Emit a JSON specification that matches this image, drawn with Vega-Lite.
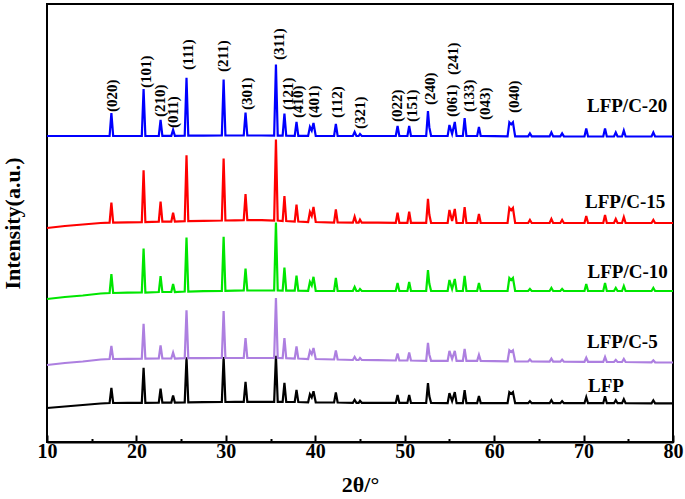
{
  "$schema": "https://vega.github.io/schema/vega-lite/v6.json",
  "width": 626,
  "height": 438,
  "autosize": {"type": "none"},
  "padding": {"left": 47, "top": 4, "right": 12, "bottom": 57},
  "config": {
    "view": {"stroke": "black", "strokeWidth": 2},
    "font": "Liberation Serif"
  },
  "layer": [
    {
      "data": {"values": [
        {"t":10,"C20":306,"C15":214,"C10":143,"C5":77,"LFP":34},
        {"t":12,"C20":306,"C15":216,"C10":145,"C5":79,"LFP":35.5},
        {"t":14,"C20":306,"C15":217.5,"C10":146.5,"C5":80.5,"LFP":37},
        {"t":16,"C20":306,"C15":219,"C10":148.5,"C5":82.5,"LFP":38.5},
        {"t":17,"C20":306,"C15":219.3,"C10":149,"C5":83,"LFP":39},
        {"t":17.2,"C20":329,"C15":239.3,"C10":168,"C5":96,"LFP":54},
        {"t":17.4,"C20":306,"C15":219.3,"C10":149,"C5":83,"LFP":39},
        {"t":19,"C20":306,"C15":219.6,"C10":149.3,"C5":83.2,"LFP":39.1},
        {"t":20.6,"C20":306,"C15":219.8,"C10":149.5,"C5":83.3,"LFP":39.2},
        {"t":20.8,"C20":353,"C15":271.8,"C10":193.5,"C5":118.3,"LFP":74.2},
        {"t":21,"C20":306,"C15":219.8,"C10":149.5,"C5":83.3,"LFP":39.2},
        {"t":22.5,"C20":306.2,"C15":220.3,"C10":150,"C5":83.5,"LFP":39.4},
        {"t":22.7,"C20":322.2,"C15":240.3,"C10":166,"C5":96.5,"LFP":53.4},
        {"t":22.9,"C20":306.2,"C15":220.3,"C10":150,"C5":83.5,"LFP":39.4},
        {"t":23.9,"C20":306.2,"C15":220.3,"C10":150,"C5":83.5,"LFP":39.4},
        {"t":24.1,"C20":312.2,"C15":229.3,"C10":158,"C5":89.5,"LFP":46.4},
        {"t":24.3,"C20":306.2,"C15":220.3,"C10":150,"C5":83.5,"LFP":39.4},
        {"t":25.4,"C20":306.3,"C15":220.8,"C10":150.5,"C5":83.8,"LFP":39.6},
        {"t":25.6,"C20":364.3,"C15":286.8,"C10":204.5,"C5":131.8,"LFP":84.6},
        {"t":25.8,"C20":306.3,"C15":220.8,"C10":150.5,"C5":83.8,"LFP":39.6},
        {"t":27.5,"C20":306.4,"C15":221.2,"C10":150.9,"C5":83.9,"LFP":39.8},
        {"t":29.55,"C20":306.5,"C15":221.5,"C10":151.2,"C5":84,"LFP":40},
        {"t":29.75,"C20":362.5,"C15":283.5,"C10":205.2,"C5":131,"LFP":85},
        {"t":29.95,"C20":306.5,"C15":221.5,"C10":151.2,"C5":84,"LFP":40},
        {"t":31,"C20":306.5,"C15":221.7,"C10":151.4,"C5":84,"LFP":40.1},
        {"t":32,"C20":306.5,"C15":221.8,"C10":151.5,"C5":84,"LFP":40.2},
        {"t":32.2,"C20":329.5,"C15":247.8,"C10":173.5,"C5":104,"LFP":60.2},
        {"t":32.4,"C20":306.5,"C15":221.8,"C10":151.5,"C5":84,"LFP":40.2},
        {"t":34,"C20":306.5,"C15":221.8,"C10":151.5,"C5":84,"LFP":40.2},
        {"t":35.4,"C20":306.4,"C15":221.5,"C10":151.5,"C5":84,"LFP":40.2},
        {"t":35.6,"C20":377.4,"C15":302.5,"C10":219.5,"C5":144,"LFP":86.2},
        {"t":35.8,"C20":306.4,"C15":221.5,"C10":151.5,"C5":84,"LFP":40.2},
        {"t":36.35,"C20":306.3,"C15":221,"C10":151.4,"C5":83.8,"LFP":40.1},
        {"t":36.55,"C20":328.3,"C15":246,"C10":174.4,"C5":103.8,"LFP":59.1},
        {"t":36.75,"C20":306.3,"C15":221,"C10":151.4,"C5":83.8,"LFP":40.1},
        {"t":37.7,"C20":306.2,"C15":220.5,"C10":151.3,"C5":83.5,"LFP":40},
        {"t":37.9,"C20":320.2,"C15":237.5,"C10":166.3,"C5":95.5,"LFP":52},
        {"t":38.1,"C20":306.2,"C15":220.5,"C10":151.3,"C5":83.5,"LFP":40},
        {"t":39.2,"C20":306.1,"C15":220,"C10":151.2,"C5":83,"LFP":39.7},
        {"t":39.4,"C20":315.1,"C15":230,"C10":160.2,"C5":91,"LFP":47.7},
        {"t":39.6,"C20":311.5,"C15":226,"C10":156.6,"C5":87.8,"LFP":44.5},
        {"t":39.8,"C20":319.1,"C15":235,"C10":165.2,"C5":94,"LFP":50.7},
        {"t":40.05,"C20":306.1,"C15":220,"C10":151.2,"C5":83,"LFP":39.7},
        {"t":42.1,"C20":306,"C15":219.5,"C10":151,"C5":82.5,"LFP":39.5},
        {"t":42.3,"C20":318,"C15":232.5,"C10":164,"C5":91.5,"LFP":49.5},
        {"t":42.5,"C20":306,"C15":219.5,"C10":151,"C5":82.5,"LFP":39.5},
        {"t":44.2,"C20":306,"C15":219.3,"C10":151,"C5":82,"LFP":39.2},
        {"t":44.4,"C20":310,"C15":225.3,"C10":155,"C5":85,"LFP":42.2},
        {"t":44.6,"C20":306,"C15":219.3,"C10":151,"C5":82,"LFP":39.2},
        {"t":44.85,"C20":306,"C15":219.3,"C10":151,"C5":82,"LFP":39.2},
        {"t":45,"C20":308,"C15":222.3,"C10":153,"C5":84,"LFP":41.2},
        {"t":45.2,"C20":306,"C15":219.3,"C10":151,"C5":82,"LFP":39.2},
        {"t":47,"C20":306,"C15":219.3,"C10":151,"C5":81.8,"LFP":39.2},
        {"t":49,"C20":306,"C15":219.2,"C10":151,"C5":81.5,"LFP":39.1},
        {"t":49.2,"C20":316,"C15":229.2,"C10":159,"C5":88.5,"LFP":47.1},
        {"t":49.4,"C20":306,"C15":219.2,"C10":151,"C5":81.5,"LFP":39.1},
        {"t":50.3,"C20":306,"C15":219.2,"C10":151,"C5":81.5,"LFP":39.1},
        {"t":50.5,"C20":316,"C15":230.2,"C10":160,"C5":89.5,"LFP":47.1},
        {"t":50.7,"C20":306,"C15":219.2,"C10":151,"C5":81.5,"LFP":39.1},
        {"t":52.4,"C20":306,"C15":219.1,"C10":151,"C5":81.2,"LFP":39},
        {"t":52.6,"C20":331,"C15":243.1,"C10":172,"C5":99.2,"LFP":59},
        {"t":52.75,"C20":314.8,"C15":227.5,"C10":158.4,"C5":87.5,"LFP":46},
        {"t":52.95,"C20":306,"C15":219.1,"C10":151,"C5":81.2,"LFP":39},
        {"t":54.8,"C20":306,"C15":219,"C10":151,"C5":81.1,"LFP":38.9},
        {"t":55,"C20":317,"C15":232,"C10":162,"C5":91.1,"LFP":48.9},
        {"t":55.3,"C20":308,"C15":221,"C10":153,"C5":83,"LFP":40.9},
        {"t":55.6,"C20":320,"C15":233,"C10":163,"C5":91.1,"LFP":49.9},
        {"t":55.8,"C20":306,"C15":219,"C10":151,"C5":81.1,"LFP":38.9},
        {"t":56.5,"C20":306,"C15":219,"C10":151,"C5":81.1,"LFP":38.9},
        {"t":56.7,"C20":324,"C15":235,"C10":166,"C5":93.1,"LFP":51.9},
        {"t":56.9,"C20":306,"C15":219,"C10":151,"C5":81.1,"LFP":38.9},
        {"t":58.1,"C20":306,"C15":219,"C10":151,"C5":81.1,"LFP":38.9},
        {"t":58.3,"C20":315,"C15":228,"C10":159,"C5":87.1,"LFP":45.9},
        {"t":58.5,"C20":306,"C15":219,"C10":151,"C5":81.1,"LFP":38.9},
        {"t":60,"C20":305.8,"C15":219,"C10":151,"C5":80.8,"LFP":38.8},
        {"t":61.5,"C20":305.7,"C15":219,"C10":151,"C5":80.7,"LFP":38.8},
        {"t":61.7,"C20":319.7,"C15":234,"C10":164,"C5":91.7,"LFP":49.8},
        {"t":61.9,"C20":317.6,"C15":231.8,"C10":162,"C5":90,"LFP":48.2},
        {"t":62.1,"C20":319.7,"C15":234,"C10":164,"C5":91.7,"LFP":49.8},
        {"t":62.35,"C20":305.7,"C15":219,"C10":151,"C5":80.7,"LFP":38.8},
        {"t":63.8,"C20":305.6,"C15":219,"C10":151,"C5":80.5,"LFP":38.8},
        {"t":64,"C20":308.6,"C15":222,"C10":153,"C5":82.5,"LFP":40.8},
        {"t":64.2,"C20":305.6,"C15":219,"C10":151,"C5":80.5,"LFP":38.8},
        {"t":66.2,"C20":305.6,"C15":219,"C10":151,"C5":80.4,"LFP":38.8},
        {"t":66.4,"C20":309.6,"C15":223,"C10":154,"C5":83.4,"LFP":41.8},
        {"t":66.6,"C20":305.6,"C15":219,"C10":151,"C5":80.4,"LFP":38.8},
        {"t":67.4,"C20":305.6,"C15":219,"C10":151,"C5":80.3,"LFP":38.8},
        {"t":67.6,"C20":308.6,"C15":222,"C10":153,"C5":82.3,"LFP":40.8},
        {"t":67.8,"C20":305.6,"C15":219,"C10":151,"C5":80.3,"LFP":38.8},
        {"t":70.1,"C20":305.5,"C15":219,"C10":151,"C5":80.2,"LFP":38.8},
        {"t":70.3,"C20":313.5,"C15":226,"C10":158,"C5":84.2,"LFP":44.8},
        {"t":70.5,"C20":305.5,"C15":219,"C10":151,"C5":80.2,"LFP":38.8},
        {"t":72.2,"C20":305.5,"C15":219,"C10":151,"C5":80.1,"LFP":38.8},
        {"t":72.4,"C20":313.5,"C15":227,"C10":159,"C5":85.1,"LFP":45.8},
        {"t":72.6,"C20":305.5,"C15":219,"C10":151,"C5":80.1,"LFP":38.8},
        {"t":73.4,"C20":305.5,"C15":219,"C10":151,"C5":80,"LFP":38.8},
        {"t":73.6,"C20":309.5,"C15":223,"C10":154,"C5":82,"LFP":41.8},
        {"t":73.8,"C20":305.5,"C15":219,"C10":151,"C5":80,"LFP":38.8},
        {"t":74.3,"C20":305.5,"C15":219,"C10":151,"C5":80,"LFP":38.8},
        {"t":74.5,"C20":311.5,"C15":225,"C10":156,"C5":83,"LFP":42.8},
        {"t":74.7,"C20":305.5,"C15":219,"C10":151,"C5":80,"LFP":38.8},
        {"t":77.6,"C20":305.5,"C15":219,"C10":151,"C5":79.7,"LFP":38.7},
        {"t":77.8,"C20":309.5,"C15":222,"C10":154,"C5":81.7,"LFP":41.7},
        {"t":78,"C20":305.5,"C15":219,"C10":151,"C5":79.7,"LFP":38.7},
        {"t":80,"C20":305.5,"C15":219,"C10":151,"C5":79.5,"LFP":38.7}
      ]},
      "transform": [{"fold": ["LFP", "C5", "C10", "C15", "C20"], "as": ["series", "intensity"]}],
      "mark": {"type": "line", "strokeWidth": 2.2, "strokeJoin": "miter"},
      "encoding": {
        "x": {
          "field": "t", "type": "quantitative",
          "scale": {"domain": [10, 80], "nice": false, "zero": false},
          "axis": {
            "values": [10, 15, 20, 25, 30, 35, 40, 45, 50, 55, 60, 65, 70, 75, 80],
            "labelExpr": "datum.value % 10 === 0 ? datum.label : ''",
            "tickSize": {"condition": {"test": "datum.value % 10 === 0", "value": -7}, "value": -3.5},
            "tickColor": "black", "tickWidth": 2,
            "domainColor": "black", "domainWidth": 2,
            "grid": false,
            "labelFont": "Liberation Serif", "labelFontWeight": "bold", "labelFontSize": 20, "labelColor": "black",
            "labelPadding": 6, "labelFlush": false, "labelOverlap": false,
            "title": "2θ/°",
            "titleFont": "Liberation Serif", "titleFontWeight": "bold", "titleFontSize": 22, "titleColor": "black",
            "titlePadding": 10
          }
        },
        "y": {
          "field": "intensity", "type": "quantitative",
          "scale": {"domain": [0, 438], "nice": false, "zero": false},
          "axis": {
            "labels": false, "ticks": false, "domain": false, "grid": false,
            "title": "Intensity(a.u.)",
            "titleFont": "Liberation Serif", "titleFontWeight": "bold", "titleFontSize": 22, "titleColor": "black",
            "titlePadding": 23
          }
        },
        "color": {
          "field": "series", "type": "nominal",
          "scale": {"domain": ["LFP", "C5", "C10", "C15", "C20"], "range": ["#000000", "#AD7FE0", "#00E600", "#FF0000", "#0000FF"]},
          "legend": null
        }
      }
    },
    {
      "data": {"values": [
        {"t": 17.3, "intensity": 330, "label": "(020)"},
        {"t": 21.05, "intensity": 354, "label": "(101)"},
        {"t": 22.64, "intensity": 325, "label": "(210)"},
        {"t": 24.12, "intensity": 314, "label": "(011)"},
        {"t": 25.8, "intensity": 372, "label": "(111)"},
        {"t": 29.7, "intensity": 370, "label": "(211)"},
        {"t": 32.33, "intensity": 332, "label": "(301)"},
        {"t": 35.9, "intensity": 382, "label": "(311)"},
        {"t": 36.98, "intensity": 332, "label": "(121)"},
        {"t": 38.1, "intensity": 324, "label": "(410)"},
        {"t": 39.86, "intensity": 324, "label": "(401)"},
        {"t": 42.4, "intensity": 324, "label": "(112)"},
        {"t": 45.0, "intensity": 313, "label": "(321)"},
        {"t": 49.1, "intensity": 320, "label": "(022)"},
        {"t": 50.78, "intensity": 320, "label": "(151)"},
        {"t": 52.8, "intensity": 337, "label": "(240)"},
        {"t": 55.3, "intensity": 325, "label": "(061)"},
        {"t": 55.4, "intensity": 367, "label": "(241)"},
        {"t": 57.2, "intensity": 330, "label": "(133)"},
        {"t": 59.0, "intensity": 322, "label": "(043)"},
        {"t": 62.2, "intensity": 329, "label": "(040)"}
      ]},
      "mark": {"type": "text", "angle": 270, "align": "left", "baseline": "middle", "font": "Liberation Serif", "fontWeight": "bold", "fontSize": 15, "color": "black"},
      "encoding": {
        "x": {"field": "t", "type": "quantitative"},
        "y": {"field": "intensity", "type": "quantitative"},
        "text": {"field": "label"}
      }
    },
    {
      "data": {"values": [
        {"t": 70.38, "intensity": 336, "label": "LFP/C-20"},
        {"t": 70.16, "intensity": 240, "label": "LFP/C-15"},
        {"t": 70.45, "intensity": 170, "label": "LFP/C-10"},
        {"t": 70.38, "intensity": 100, "label": "LFP/C-5"},
        {"t": 70.49, "intensity": 56, "label": "LFP"}
      ]},
      "mark": {"type": "text", "align": "left", "baseline": "middle", "font": "Liberation Serif", "fontWeight": "bold", "fontSize": 19, "color": "black"},
      "encoding": {
        "x": {"field": "t", "type": "quantitative"},
        "y": {"field": "intensity", "type": "quantitative"},
        "text": {"field": "label"}
      }
    }
  ]
}
